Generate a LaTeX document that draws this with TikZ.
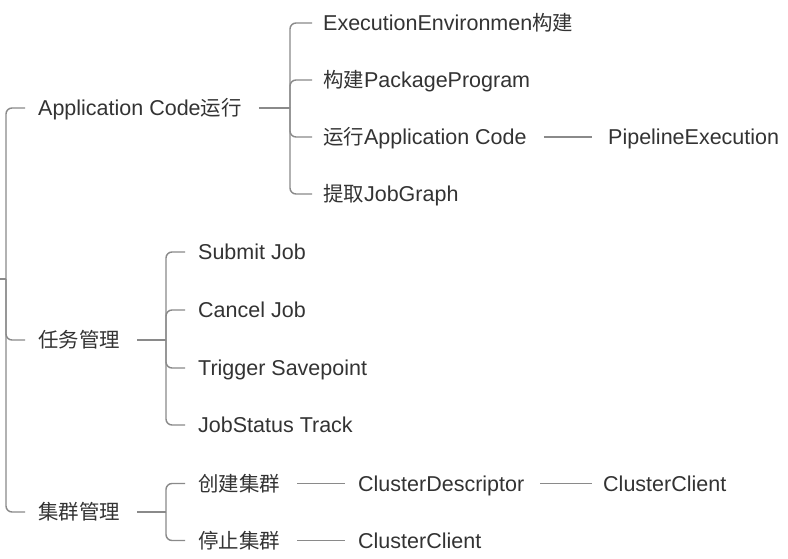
\documentclass[tikz,border=0pt]{standalone}
\usepackage{fontspec}
\setmainfont{Liberation Sans}
\newfontfamily\cjk{Noto Sans CJK SC}[Scale=0.95]
\definecolor{txt}{HTML}{333333}
\definecolor{ln}{HTML}{8A8A8A}
\begin{document}
\begin{tikzpicture}[x=1pt,y=-1pt,
  lbl/.style={anchor=base west,inner sep=0pt,text=txt,font=\fontsize{21.5}{24}\selectfont},
  conn/.style={draw=ln,line width=1.4pt,rounded corners=6pt}]
\useasboundingbox[fill=white] (0,0) rectangle (788,559);
% nodes
\node[lbl] (app)  at (38,115.5) {Application Code{\cjk 运行}};
\node[lbl] (task) at (38,347.5) {\cjk 任务管理};
\node[lbl] (clus) at (38,519.5) {\cjk 集群管理};
\node[lbl] (a1) at (323,30.5)  {ExecutionEnvironmen{\cjk 构建}};
\node[lbl] (a2) at (323,87.5)  {{\cjk 构建}PackageProgram};
\node[lbl] (a3) at (323,144.5) {{\cjk 运行}Application Code};
\node[lbl] (a4) at (323,201.5) {{\cjk 提取}JobGraph};
\node[lbl] (pe) at (608,144.5) {PipelineExecution};
\node[lbl] (t1) at (198,259.5) {Submit Job};
\node[lbl] (t2) at (198,317.5) {Cancel Job};
\node[lbl] (t3) at (198,375.5) {Trigger Savepoint};
\node[lbl] (t4) at (198,432.5) {JobStatus Track};
\node[lbl] (c1) at (198,491) {\cjk 创建集群};
\node[lbl] (c2) at (198,548) {\cjk 停止集群};
\node[lbl] (cd) at (358,491) {ClusterDescriptor};
\node[lbl] (cc1) at (603,491) {ClusterClient};
\node[lbl] (cc2) at (358,548) {ClusterClient};
% junctions
\coordinate (rootIn) at (0,279);
\coordinate (rootJ) at (6,279);
\coordinate (appJ) at (290,108);
\coordinate (taskJ) at (166,340);
\coordinate (clusJ) at (166,512);
% root
\draw[conn] (rootIn) -- (rootJ);
\foreach \n in {app,task,clus}
  \draw[conn] (rootJ) |- ([shift={(-13,-7.5)}]\n.base west);
% application code
\draw[conn] ([shift={(17,-7.5)}]app.base east) -- (appJ);
\foreach \n in {a1,a2,a3,a4}
  \draw[conn] (appJ) |- ([shift={(-11,-7.5)}]\n.base west);
\draw[conn] ([shift={(17,-7.5)}]a3.base east) -- ([shift={(-16,-7.5)}]pe.base west);
% tasks
\draw[conn] ([shift={(17,-7.5)}]task.base east) -- (taskJ);
\foreach \n in {t1,t2,t3,t4}
  \draw[conn] (taskJ) |- ([shift={(-13,-7.5)}]\n.base west);
% cluster
\draw[conn] ([shift={(17,-7.5)}]clus.base east) -- (clusJ);
\foreach \n in {c1,c2}
  \draw[conn] (clusJ) |- ([shift={(-13,-7.5)}]\n.base west);
\draw[conn] ([shift={(17,-7.5)}]c1.base east) -- ([shift={(-13,-7.5)}]cd.base west);
\draw[conn] ([shift={(16,-7.5)}]cd.base east) -- ([shift={(-11,-7.5)}]cc1.base west);
\draw[conn] ([shift={(17,-7.5)}]c2.base east) -- ([shift={(-13,-7.5)}]cc2.base west);
\end{tikzpicture}
\end{document}
